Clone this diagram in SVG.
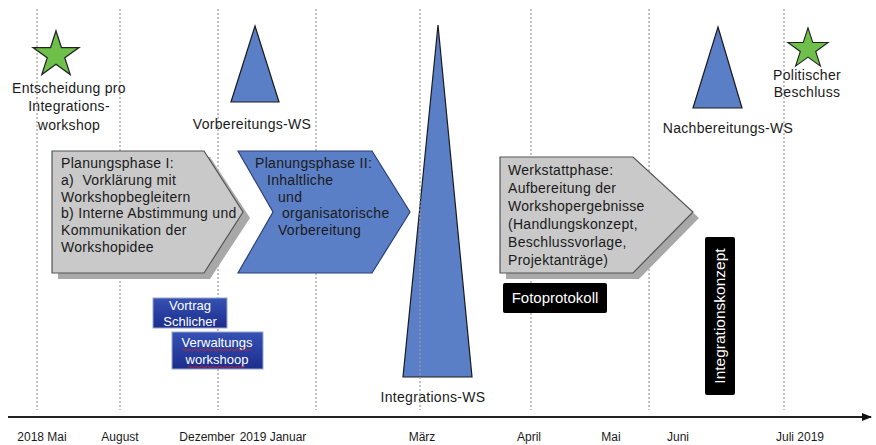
<svg xmlns="http://www.w3.org/2000/svg" width="876" height="445" viewBox="0 0 876 445">
<style>
text{font-family:"Liberation Sans",Arial,sans-serif;fill:#1a1a1a}
.lbl{font-size:14px;letter-spacing:0.3px}
.ax{font-size:12px}
.grid{stroke:#9a9a9a;stroke-width:1.2;stroke-dasharray:2,2;fill:none}
.tri{fill:#5b7fc6;stroke:#1a1a1a;stroke-width:1.2}
.star{fill:#6fc04a;stroke:#222;stroke-width:1.2}
.gray{fill:#c9c9c9;stroke:#555;stroke-width:1.2}
.shadow{fill:#a8a8a8}
.blue{fill:#5b7fc6;stroke:#2a3f7a;stroke-width:1.2}
.navy{fill:url(#navyg);stroke:#9aa6c8;stroke-width:1}
.wt{fill:#fff;font-size:13px}
.blk{fill:#000}
.squig{fill:none;stroke:#d42020;stroke-width:0.9}
</style>
<defs>
<linearGradient id="navyg" x1="0" y1="0" x2="0" y2="1">
<stop offset="0" stop-color="#3552b4"/>
<stop offset="1" stop-color="#1c2d8c"/>
</linearGradient>
<path id="star" d="M0,-23 L5.17,-7.12 L21.87,-7.11 L8.37,2.72 L13.52,18.61 L0,8.8 L-13.52,18.61 L-8.37,2.72 L-21.87,-7.11 L-5.17,-7.12 Z"/>
<marker id="arr" markerWidth="10" markerHeight="8" refX="9" refY="4" orient="auto" markerUnits="userSpaceOnUse">
<path d="M0,0 L10,4 L0,8 Z" fill="#111"/>
</marker>
</defs>
<rect width="876" height="445" fill="#fff"/>

<g id="integrations-ws">
<polygon class="tri" points="438,25 472,377 403,377"/>
<text class="lbl" x="433" y="402" text-anchor="middle">Integrations-WS</text>
</g>

<g id="grid">
<line class="grid" x1="37" y1="9" x2="37" y2="410"/>
<line class="grid" x1="120" y1="9" x2="120" y2="410"/>
<line class="grid" x1="218" y1="9" x2="218" y2="410"/>
<line class="grid" x1="316" y1="9" x2="316" y2="410"/>
<line class="grid" x1="420" y1="9" x2="420" y2="410"/>
<line class="grid" x1="531" y1="9" x2="531" y2="410"/>
<line class="grid" x1="649" y1="9" x2="649" y2="410"/>
<line class="grid" x1="784" y1="9" x2="784" y2="410"/>
</g>

<g id="connectors">
<line x1="8" y1="417" x2="871" y2="417" stroke="#222" stroke-width="1.8" marker-end="url(#arr)"/>
</g>

<g id="axis-labels">
<text class="ax" x="42" y="441" text-anchor="middle">2018 Mai</text>
<text class="ax" x="120" y="441" text-anchor="middle">August</text>
<text class="ax" x="207" y="441" text-anchor="middle">Dezember</text>
<text class="ax" x="273" y="441" text-anchor="middle">2019 Januar</text>
<text class="ax" x="422" y="441" text-anchor="middle">März</text>
<text class="ax" x="529" y="441" text-anchor="middle">April</text>
<text class="ax" x="611" y="441" text-anchor="middle">Mai</text>
<text class="ax" x="678" y="441" text-anchor="middle">Juni</text>
<text class="ax" x="800" y="441" text-anchor="middle">Juli 2019</text>
</g>

<g id="entscheidung">
<use href="#star" class="star" transform="translate(56,55) scale(1.05)"/>
<text class="lbl" x="69" y="93" text-anchor="middle">Entscheidung pro</text>
<text class="lbl" x="69" y="111" text-anchor="middle">Integrations-</text>
<text class="lbl" x="69" y="130" text-anchor="middle">workshop</text>
</g>

<g id="vorbereitungs-ws">
<polygon class="tri" points="255,26 279,102 231,102"/>
<text class="lbl" x="252" y="129" text-anchor="middle">Vorbereitungs-WS</text>
</g>

<g id="nachbereitungs-ws">
<polygon class="tri" points="718,27 742,108 693,108"/>
<text class="lbl" x="728" y="133" text-anchor="middle">Nachbereitungs-WS</text>
</g>

<g id="politischer-beschluss">
<use href="#star" class="star" transform="translate(808,49) scale(0.92)"/>
<text class="lbl" x="807" y="80" text-anchor="middle">Politischer</text>
<text class="lbl" x="807" y="97" text-anchor="middle">Beschluss</text>
</g>

<g id="planungsphase-1">
<polygon class="shadow" points="58,157 210,157 250,218 210,279 58,279"/>
<polygon class="gray" points="52,151 204,151 243,212 204,273 52,273"/>
<text class="lbl" x="61" y="168">Planungsphase I:</text>
<text class="lbl" x="61" y="185">a)&#160; Vorklärung mit</text>
<text class="lbl" x="61" y="202">Workshopbegleitern</text>
<text class="lbl" x="61" y="218">b) Interne Abstimmung und</text>
<text class="lbl" x="61" y="235">Kommunikation der</text>
<text class="lbl" x="61" y="252">Workshopidee</text>
</g>

<g id="planungsphase-2">
<polygon class="blue" points="238,151 372,151 410,212 372,273 238,273 273,212"/>
<text class="lbl" x="255" y="168">Planungsphase II:</text>
<text class="lbl" x="267" y="185">Inhaltliche</text>
<text class="lbl" x="278" y="202">und</text>
<text class="lbl" x="282" y="218">organisatorische</text>
<text class="lbl" x="278" y="235">Vorbereitung</text>
</g>

<g id="werkstattphase">
<polygon class="shadow" points="506,163 639,163 699,218 639,279 506,279"/>
<polygon class="gray" points="500,157 633,157 693,212 633,273 500,273"/>
<text class="lbl" x="508" y="175">Werkstattphase:</text>
<text class="lbl" x="508" y="193">Aufbereitung der</text>
<text class="lbl" x="508" y="211">Workshopergebnisse</text>
<text class="lbl" x="508" y="229">(Handlungskonzept,</text>
<text class="lbl" x="508" y="247">Beschlussvorlage,</text>
<text class="lbl" x="508" y="265">Projektanträge)</text>
</g>

<g id="fotoprotokoll">
<rect class="blk" x="503" y="283" width="104" height="30" rx="2"/>
<text x="555" y="303" text-anchor="middle" style="fill:#fff;font-size:15px">Fotoprotokoll</text>
</g>

<g id="integrationskonzept">
<rect class="blk" x="705" y="237" width="30" height="158" rx="2"/>
<text transform="translate(725,316) rotate(-90)" text-anchor="middle" style="fill:#fff;font-size:15.5px">Integrationskonzept</text>
</g>

<g id="vortrag-schlicher">
<rect class="navy" x="153" y="298" width="74" height="30"/>
<text class="wt" x="190" y="310" text-anchor="middle">Vortrag</text>
<text class="wt" x="190" y="326" text-anchor="middle">Schlicher</text>
</g>

<g id="verwaltungsworkshoop">
<rect class="navy" x="172" y="332" width="91" height="37"/>
<text class="wt" x="217" y="347" text-anchor="middle">Verwaltungs</text>
<text class="wt" x="217" y="364" text-anchor="middle">workshoop</text>
<path class="squig" d="M182,350 q1.5,-1.5 3,0 t3,0 t3,0 t3,0 t3,0 t3,0 t3,0 t3,0 t3,0 t3,0 t3,0 t3,0 t3,0 t3,0 t3,0 t3,0 t3,0 t3,0 t3,0 t3,0 t3,0 t3,0 t3,0"/>
<path class="squig" d="M188,367 q1.5,-1.5 3,0 t3,0 t3,0 t3,0 t3,0 t3,0 t3,0 t3,0 t3,0 t3,0 t3,0 t3,0 t3,0 t3,0 t3,0 t3,0 t3,0 t3,0 t3,0"/>
</g>
</svg>
